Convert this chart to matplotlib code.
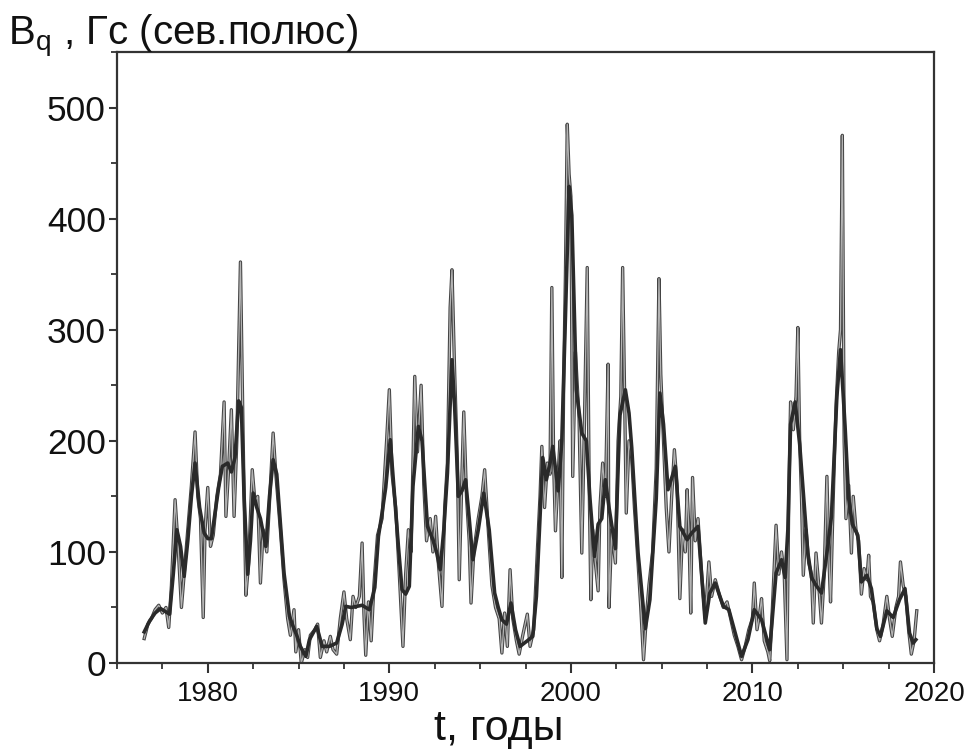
import numpy as np
import matplotlib.pyplot as plt
import matplotlib.patheffects as pe
from matplotlib.ticker import MultipleLocator

plt.rcParams['font.family'] = ['Liberation Sans', 'DejaVu Sans']
plt.rcParams['mathtext.default'] = 'regular'

# Сглаженный ряд (тёмная линия)
t_smooth = [1976.5, 1976.8, 1977.1, 1977.4, 1977.7, 1977.9, 1978.1, 1978.3, 1978.5, 1978.7,
            1978.9, 1979.1, 1979.3, 1979.55, 1979.8, 1980.0, 1980.2, 1980.4, 1980.6, 1980.8,
            1981.1, 1981.3, 1981.5, 1981.7, 1981.85, 1982.0, 1982.2, 1982.35, 1982.5, 1982.7,
            1982.9, 1983.2, 1983.4, 1983.6, 1983.8, 1984.0, 1984.2, 1984.5, 1984.7, 1984.9,
            1985.1, 1985.4, 1985.6, 1986.0, 1986.3, 1986.7, 1987.1, 1987.4, 1987.6, 1987.9,
            1988.2, 1988.5, 1988.7, 1988.9, 1989.2, 1989.4, 1989.6, 1989.8, 1990.05, 1990.3,
            1990.5, 1990.7, 1990.9, 1991.1, 1991.3, 1991.6, 1991.8, 1992.1, 1992.4, 1992.6,
            1992.8, 1993.0, 1993.2, 1993.45, 1993.6, 1993.8, 1994.0, 1994.2, 1994.4, 1994.6,
            1994.9, 1995.2, 1995.5, 1995.8, 1996.0, 1996.2, 1996.45, 1996.7, 1996.95, 1997.2,
            1997.6, 1997.9, 1998.1, 1998.3, 1998.45, 1998.65, 1998.85, 1999.0, 1999.3, 1999.5,
            1999.7, 1999.9, 2000.05, 2000.3, 2000.6, 2000.85, 2001.05, 2001.3, 2001.5, 2001.7,
            2001.9, 2002.1, 2002.45, 2002.7, 2003.0, 2003.2, 2003.35, 2003.7, 2004.1, 2004.35,
            2004.7, 2004.9, 2005.1, 2005.35, 2005.75, 2006.0, 2006.4, 2006.65, 2007.0, 2007.4,
            2007.65, 2007.95, 2008.4, 2008.7, 2009.0, 2009.4, 2009.75, 2010.1, 2010.5, 2010.95,
            2011.3, 2011.6, 2011.8, 2011.95, 2012.1, 2012.35, 2012.6, 2012.9, 2013.05, 2013.25,
            2013.5, 2013.8, 2014.1, 2014.35, 2014.65, 2014.85, 2015.1, 2015.3, 2015.5, 2015.8,
            2016.0, 2016.3, 2016.55, 2016.85, 2017.05, 2017.4, 2017.75, 2018.1, 2018.4, 2018.65,
            2018.85, 2019.0]
b_smooth = [28, 38, 45, 49, 46, 44, 80, 120, 105, 78,
            110, 150, 180, 140, 117, 112, 112, 135, 158, 177,
            180, 172, 185, 236, 230, 150, 80, 110, 153, 140,
            130, 105, 150, 183, 170, 125, 81, 42, 33, 25,
            15, 6, 21, 33, 15, 15, 18, 35, 51, 50,
            51, 52, 50, 48, 68, 114, 135, 158, 201, 147,
            105, 66, 62, 69, 159, 213, 200, 123, 111, 100,
            84, 120, 171, 273, 230, 150, 155, 165, 130, 93,
            120, 153, 120, 63, 50, 39, 35, 54, 30, 15,
            20, 24, 60, 132, 185, 165, 180, 195, 155, 200,
            312, 429, 403, 246, 207, 200, 148, 96, 125, 130,
            165, 140, 103, 223, 246, 225, 194, 99, 31, 57,
            148, 243, 215, 156, 177, 123, 111, 117, 123, 36,
            63, 72, 51, 48, 30, 6, 21, 48, 39, 12,
            81, 93, 77, 120, 215, 235, 197, 132, 99, 77,
            70, 63, 99, 132, 240, 282, 213, 148, 125, 115,
            73, 79, 67, 31, 24, 47, 41, 57, 67, 27,
            18, 21]

# Исходные месячные значения (тонкая линия)
t_raw = [1976.5, 1976.7, 1976.9, 1977.1, 1977.3, 1977.5, 1977.7, 1977.85, 1978.0, 1978.2,
         1978.35, 1978.55, 1978.7, 1978.9, 1979.1, 1979.3, 1979.45, 1979.6, 1979.75, 1979.85,
         1980.0, 1980.15, 1980.3, 1980.5, 1980.7, 1980.9, 1981.0, 1981.15, 1981.3, 1981.45,
         1981.6, 1981.8, 1981.95, 1982.1, 1982.25, 1982.45, 1982.6, 1982.75, 1982.9, 1983.05,
         1983.25, 1983.45, 1983.6, 1983.75, 1984.0, 1984.2, 1984.4, 1984.55, 1984.75, 1984.85,
         1985.0, 1985.15, 1985.35, 1985.5, 1985.65, 1985.9, 1986.05, 1986.2, 1986.4, 1986.55,
         1986.75, 1986.9, 1987.1, 1987.3, 1987.5, 1987.65, 1987.85, 1988.0, 1988.15, 1988.35,
         1988.5, 1988.6, 1988.7, 1988.85, 1989.0, 1989.15, 1989.35, 1989.6, 1989.85, 1990.0,
         1990.15, 1990.35, 1990.55, 1990.75, 1990.9, 1991.05, 1991.2, 1991.4, 1991.55, 1991.75,
         1991.9, 1992.05, 1992.25, 1992.4, 1992.55, 1992.7, 1992.9, 1993.05, 1993.2, 1993.35,
         1993.45, 1993.6, 1993.75, 1993.85, 1994.0, 1994.1, 1994.25, 1994.4, 1994.5, 1994.65,
         1994.9, 1995.1, 1995.25, 1995.45, 1995.65, 1995.85, 1996.05, 1996.2, 1996.35, 1996.5,
         1996.65, 1996.8, 1997.0, 1997.15, 1997.35, 1997.6, 1997.75, 1997.95, 1998.15, 1998.3,
         1998.4, 1998.55, 1998.7, 1998.85, 1998.95, 1999.05, 1999.15, 1999.3, 1999.4, 1999.5,
         1999.6, 1999.7, 1999.8, 1999.9, 2000.0, 2000.1, 2000.25, 2000.45, 2000.6, 2000.75,
         2000.9, 2001.0, 2001.1, 2001.2, 2001.35, 2001.5, 2001.6, 2001.75, 2001.9, 2002.05,
         2002.1, 2002.25, 2002.45, 2002.6, 2002.75, 2002.85, 2002.95, 2003.05, 2003.2, 2003.35,
         2003.5, 2003.7, 2003.85, 2004.0, 2004.15, 2004.3, 2004.5, 2004.7, 2004.85, 2004.95,
         2005.1, 2005.25, 2005.4, 2005.55, 2005.7, 2005.85, 2006.0, 2006.15, 2006.3, 2006.4,
         2006.5, 2006.6, 2006.7, 2006.85, 2007.0, 2007.2, 2007.4, 2007.6, 2007.75, 2007.95,
         2008.2, 2008.4, 2008.6, 2008.8, 2009.0, 2009.2, 2009.4, 2009.6, 2009.8, 2010.0,
         2010.1, 2010.25, 2010.4, 2010.5, 2010.65, 2010.85, 2010.95, 2011.1, 2011.3, 2011.45,
         2011.6, 2011.75, 2011.9, 2012.0, 2012.1, 2012.25, 2012.4, 2012.5, 2012.6, 2012.7,
         2012.8, 2012.95, 2013.1, 2013.25, 2013.35, 2013.5, 2013.65, 2013.8, 2013.95, 2014.1,
         2014.2, 2014.3, 2014.45, 2014.6, 2014.75, 2014.85, 2014.95, 2015.05, 2015.15, 2015.3,
         2015.45, 2015.55, 2015.7, 2015.85, 2016.0, 2016.15, 2016.3, 2016.4, 2016.5, 2016.65,
         2016.85, 2017.0, 2017.2, 2017.4, 2017.55, 2017.7, 2017.9, 2018.05, 2018.15, 2018.3,
         2018.45, 2018.6, 2018.75, 2018.9, 2019.05]
b_raw = [22, 35, 40, 48, 52, 45, 50, 32, 70, 147,
         110, 50, 80, 120, 160, 208, 150, 130, 41, 120,
         158, 105, 115, 150, 170, 235, 132, 175, 228, 132,
         200, 361, 200, 61, 90, 174, 145, 150, 72, 120,
         100, 160, 207, 170, 120, 75, 40, 25, 48, 10,
         30, 0, 12, 5, 25, 30, 35, 5, 20, 10,
         24, 12, 8, 40, 64, 40, 21, 60, 50, 60,
         108, 45, 7, 55, 20, 70, 115, 130, 200, 246,
         170, 140, 80, 15, 80, 120, 100, 258, 190, 250,
         160, 110, 130, 100, 132, 90, 51, 140, 180, 320,
         354, 260, 180, 75, 170, 226, 150, 110, 54, 100,
         130, 150, 174, 120, 70, 50, 40, 9, 45, 15,
         84, 40, 20, 8, 25, 44, 15, 30, 100, 150,
         195, 140, 180, 170, 338, 180, 119, 170, 200, 77,
         250, 350, 485, 440, 420, 168, 280, 220, 99, 220,
         356, 170, 57, 120, 90, 65, 140, 180, 150, 269,
         50, 120, 90, 200, 240, 356, 250, 135, 200, 185,
         140, 90, 50, 3, 40, 70, 100, 175, 346, 260,
         200, 140, 100, 150, 192, 160, 58, 120, 100, 156,
         120, 45, 167, 110, 130, 80, 40, 91, 60, 75,
         60, 50, 55, 40, 25, 15, 3, 15, 30, 40,
         72, 30, 45, 58, 20, 10, 2, 50, 124, 80,
         100, 80, 3, 150, 235, 210, 240, 302, 200, 150,
         79, 120, 90, 80, 36, 99, 70, 36, 80, 168,
         100, 55, 150, 230, 280, 300, 475, 200, 130, 160,
         99, 150, 120, 110, 62, 85, 75, 97, 60, 55,
         30, 20, 35, 60, 40, 24, 50, 60, 91, 70,
         60, 30, 8, 20, 47]

fig = plt.figure(figsize=(9.66, 7.53), dpi=100)
ax = fig.add_axes([0.1211, 0.1195, 0.8458, 0.8114])

# тонкая линия с тёмной окантовкой
ax.plot(t_raw, b_raw, color='#b4b4b4', lw=0.9, zorder=2,
        path_effects=[pe.Stroke(linewidth=2.4, foreground='#444444'), pe.Normal()])
ax.plot(t_smooth, b_smooth, color='#2a2a2a', lw=2.6, zorder=3)

ax.set_xlim(1975, 2020)
ax.set_ylim(0, 550)
ax.xaxis.set_major_locator(MultipleLocator(10))
ax.xaxis.set_minor_locator(MultipleLocator(2.5))
ax.yaxis.set_major_locator(MultipleLocator(100))
ax.yaxis.set_minor_locator(MultipleLocator(50))

for s in ax.spines.values():
    s.set_linewidth(1.6)
    s.set_color('#333333')

ax.tick_params(axis='x', which='major', direction='out', length=7, width=1.5,
               labelsize=20, pad=6, colors='#333333', labelcolor='#111111')
ax.tick_params(axis='x', which='minor', direction='out', length=4.5, width=1.3,
               colors='#333333')
ax.tick_params(axis='y', which='major', direction='out', length=6, width=1.5,
               labelsize=25.5, pad=2, colors='#333333', labelcolor='#111111')
ax.tick_params(axis='y', which='minor', direction='out', length=4, width=1.3,
               colors='#333333')

fig.text(8 / 966, 1 - 45 / 753, 'B$_{q}$ , Гс (сев.полюс)', fontsize=29,
         color='#111111', ha='left', va='baseline')
fig.text(499 / 966, 1 - 740 / 753, 't, годы', fontsize=31,
         color='#111111', ha='center', va='baseline')

fig.savefig('out.png', dpi=100)
